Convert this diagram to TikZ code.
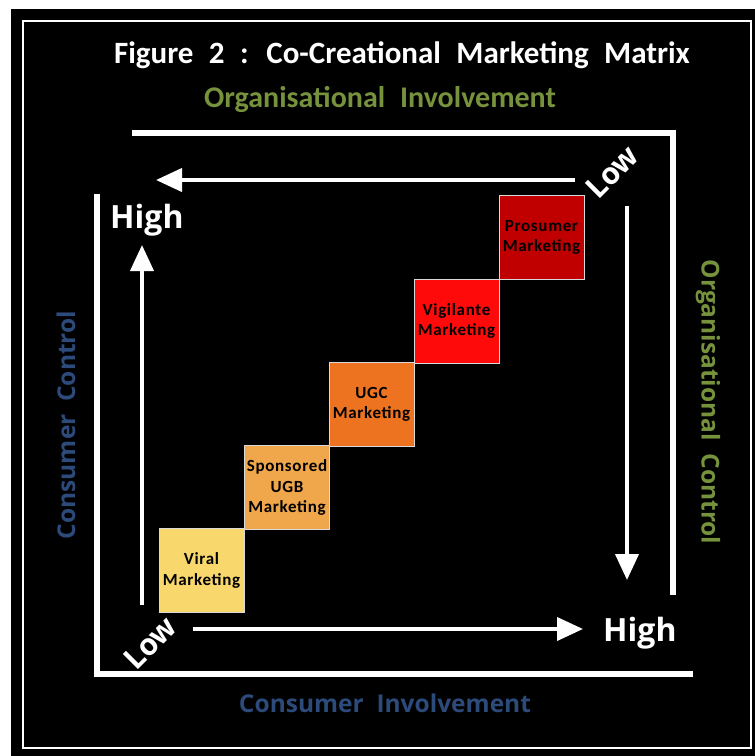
\documentclass[tikz,border=0pt]{standalone}
\usepackage{fontspec}
\setmainfont{Carlito}
\newfontfamily\osans{Open Sans}
\newfontfamily\boxfont{Carlito}[LetterSpace=4]
\newfontfamily\titlefont{Carlito}[WordSpace=2.2]
\newfontfamily\widesans{Open Sans}[WordSpace=2]
\usetikzlibrary{arrows.meta}
\definecolor{olivegreen}{RGB}{118,146,60}
\definecolor{navyblue}{RGB}{44,74,122}
\definecolor{cviral}{RGB}{248,216,109}
\definecolor{csponsored}{RGB}{240,166,74}
\definecolor{cugc}{RGB}{238,115,33}
\definecolor{cvigilante}{RGB}{255,10,10}
\definecolor{cprosumer}{RGB}{192,0,0}
\tikzset{
  axisline/.style={white, line width=6pt, line cap=rect, line join=miter},
  axisarrow/.style={white, line width=4pt, -{Triangle[length=26pt,width=23pt]}},
  stepbox/.style={draw=white!85!black, line width=1pt, minimum width=85pt, minimum height=84pt,
    inner sep=0pt, align=center, text=black, font=\boxfont\bfseries\fontsize{17}{20.5}\selectfont},
  levellabel/.style={text=white, font=\osans\bfseries\fontsize{32}{36}\selectfont, inner sep=0pt},
  axislabel/.style={font=\widesans\bfseries\fontsize{24.5}{28}\selectfont, inner sep=0pt},
}
\begin{document}
\begin{tikzpicture}[x=1pt,y=-1pt]
\useasboundingbox (0,0) rectangle (755,756);
\fill[white] (0,0) rectangle (755,756);
\fill[black] (11,9) rectangle (755,756);
\draw[white, line width=2.5pt] (23,21) rectangle (751,748);

\node[text=white, font=\titlefont\bfseries\fontsize{31}{34}\selectfont] (title) at (402,55) {Figure 2 : Co-Creational Marketing Matrix};
\node[text=olivegreen, font=\titlefont\bfseries\fontsize{30}{34}\selectfont] (orginv) at (380,99) {Organisational Involvement};

\draw[axisline] (135,133) -- (673,133) -- (673,592);
\draw[axisline] (97,197) -- (97,674) -- (690,674);

\node[levellabel, anchor=base west] (hightl) at (110,228) {High};
\node[levellabel, anchor=base west] (highbr) at (603,641) {High};
\node[levellabel, rotate=45, font=\osans\bfseries\fontsize{30}{34}\selectfont] (lowtr) at (612,172) {Low};
\node[levellabel, rotate=45, font=\osans\bfseries\fontsize{30}{34}\selectfont] (lowbl) at (150,643) {Low};

\coordinate (tstart) at (575,180);
\coordinate (tend) at (156,180);
\coordinate (rstart) at (627,206);
\coordinate (rend) at (627,580);
\coordinate (lstart) at (142,605);
\coordinate (lend) at (142,245);
\coordinate (bstart) at (193,629);
\coordinate (bend) at (583,629);
\draw[axisarrow] (tstart) -- (tend);
\draw[axisarrow] (rstart) -- (rend);
\draw[axisarrow] (lstart) -- (lend);
\draw[axisarrow] (bstart) -- (bend);

\node[axislabel, text=navyblue, rotate=90] (cc) at (66,425) {Consumer Control};
\node[axislabel, text=olivegreen, rotate=-90] (oc) at (708,402) {Organisational Control};
\node[axislabel, text=navyblue] (ci) at (385,703) {Consumer Involvement};

\node[stepbox, fill=cviral] (viral) at (201.5,570.5) {Viral\\Marketing};
\node[stepbox, fill=csponsored] (sponsored) at (287,487.5) {Sponsored\\UGB\\Marketing};
\node[stepbox, fill=cugc] (ugc) at (371.5,404.5) {UGC\\Marketing};
\node[stepbox, fill=cvigilante] (vigilante) at (456.5,321) {Vigilante\\Marketing};
\node[stepbox, fill=cprosumer] (prosumer) at (541.5,237.5) {Prosumer\\Marketing};
\end{tikzpicture}
\end{document}
